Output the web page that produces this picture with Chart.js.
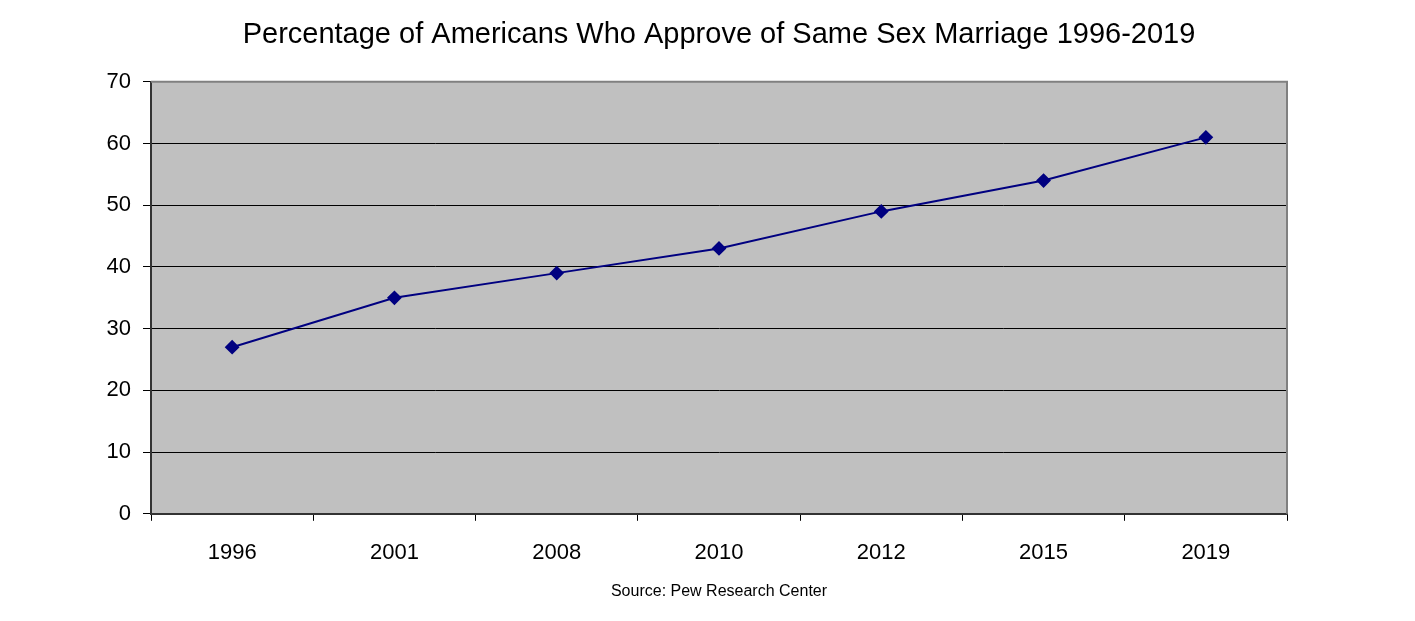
<!DOCTYPE html>
<html>
<head>
<meta charset="utf-8">
<script src="https://cdn.jsdelivr.net/npm/chart.js@4"></script>
<style>
html,body{margin:0;padding:0;background:#fff;}
#wrap{width:1415px;height:621px;}
</style>
</head>
<body>
<div id="wrap"><canvas id="c" width="1415" height="621"></canvas></div>
<script>
const years = ["1996","2001","2008","2010","2012","2015","2019"];
const approve = [27, 35, 39, 43, 49, 54, 61];
const yTicks = [0, 10, 20, 30, 40, 50, 60, 70];
const titleText = "Percentage of Americans Who Approve of Same Sex Marriage 1996-2019";
const sourceText = "Source: Pew Research Center";

const plotBg = {
  id: 'plotBg',
  beforeDraw(chart) {
    const {ctx, chartArea: a} = chart;
    ctx.save();
    ctx.fillStyle = '#C0C0C0';
    ctx.fillRect(a.left, a.top, a.right - a.left, a.bottom - a.top);
    ctx.restore();
  },
  beforeDatasetsDraw(chart) {
    const {ctx, chartArea: a} = chart;
    ctx.save();
    ctx.strokeStyle = '#808080';
    ctx.lineWidth = 2;
    ctx.beginPath();
    ctx.moveTo(a.left, a.top);
    ctx.lineTo(a.right, a.top);
    ctx.lineTo(a.right, a.bottom);
    ctx.stroke();
    ctx.restore();
  }
};

new Chart(document.getElementById('c'), {
  type: 'line',
  data: {
    labels: years,
    datasets: [{
      data: approve,
      borderColor: '#000080',
      backgroundColor: '#000080',
      borderWidth: 2,
      pointStyle: 'rectRot',
      pointRadius: 6,
      pointHoverRadius: 6,
      tension: 0,
      fill: false
    }]
  },
  options: {
    responsive: false,
    animation: false,
    devicePixelRatio: 1,
    layout: {padding: {left: 0, right: 128, top: 0, bottom: 0}},
    plugins: {
      legend: {display: false},
      tooltip: {enabled: false},
      title: {
        display: true,
        fullSize: false,
        text: titleText,
        color: '#000',
        font: {family: 'Liberation Sans, Arial, sans-serif', size: 29, weight: 'normal'},
        padding: {top: 18, bottom: 29}
      },
      subtitle: {
        display: true,
        fullSize: false,
        position: 'bottom',
        text: sourceText,
        color: '#000',
        font: {family: 'Liberation Sans, Arial, sans-serif', size: 16, weight: 'normal'},
        padding: {top: 13, bottom: 20}
      }
    },
    scales: {
      x: {
        offset: true,
        grid: {
          offset: true,
          drawOnChartArea: false,
          drawTicks: true,
          tickLength: 7,
          color: '#000',
          lineWidth: 1
        },
        border: {display: true, color: '#333', width: 2},
        ticks: {
          color: '#000',
          font: {family: 'Liberation Sans, Arial, sans-serif', size: 22},
          padding: 19,
          maxRotation: 0
        },
        afterFit(s) { s.height = 55; }
      },
      y: {
        min: 0,
        max: 70,
        afterBuildTicks(s) { s.ticks = yTicks.map(v => ({value: v})); },
        grid: {
          color: (c) => c.tick && c.tick.value === 70 ? 'rgba(0,0,0,0)' : '#000',
          tickColor: '#000',
          lineWidth: 1,
          tickLength: 8
        },
        border: {display: true, color: '#333', width: 2},
        ticks: {
          color: '#000',
          font: {family: 'Liberation Sans, Arial, sans-serif', size: 22},
          padding: 12
        },
        afterFit(s) { s.width = 151; }
      }
    }
  },
  plugins: [plotBg]
});
</script>
</body>
</html>
